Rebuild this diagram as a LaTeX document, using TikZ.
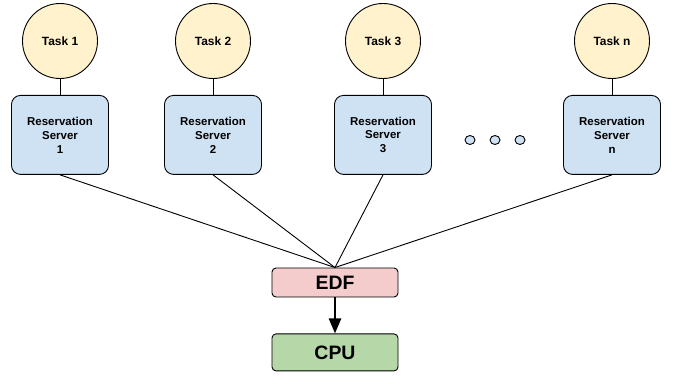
\documentclass[tikz,border=0pt]{standalone}
\usepackage{fontspec}
\setmainfont{Liberation Sans}
\usetikzlibrary{shapes.geometric, arrows.meta, positioning}
\definecolor{taskyellow}{HTML}{FFF2CC}
\definecolor{serverblue}{HTML}{CFE2F3}
\definecolor{edfred}{HTML}{F4CCCC}
\definecolor{cpugreen}{HTML}{B6D7A8}

\begin{document}
\begin{tikzpicture}[
    x=1bp, y=-1bp,
    node distance=16bp,
    task/.style={circle, draw=black, fill=taskyellow, minimum size=75bp, inner sep=0pt, font=\bfseries\fontsize{12}{14}\selectfont, line width=0.9bp},
    server/.style={rectangle, rounded corners=9bp, draw=black, fill=serverblue, minimum width=97bp, minimum height=79bp, align=center, font=\bfseries\fontsize{11.5}{14}\selectfont, line width=0.9bp},
    moredots/.style={ellipse, draw=black, fill=serverblue, minimum width=10bp, minimum height=9bp, inner sep=0pt, line width=0.9bp},
    sched/.style={rectangle, rounded corners=4bp, draw=black, fill=#1, minimum width=126bp, align=center, font=\bfseries\fontsize{19.5}{22}\selectfont, line width=0.9bp},
    link/.style={line width=0.9bp},
    bigarrow/.style={-{Triangle[length=15bp, width=12bp]}, line width=2.5bp},
]
    \useasboundingbox (0,0) rectangle (674,383);

    % Tasks
    \node[task] (t1) at (60,41) {Task 1};
    \node[task] (t2) at (213,41) {Task 2};
    \node[task] (t3) at (383,41) {Task 3};
    \node[task] (tn) at (612,41) {Task n};

    % Reservation servers
    \node[server, below=16bp of t1] (s1) {Reservation\\Server\\1};
    \node[server, below=16bp of t2] (s2) {Reservation\\Server\\2};
    \node[server, below=16bp of t3] (s3) {Reservation\\Server\\3};
    \node[server, below=16bp of tn] (sn) {Reservation\\Server\\n};

    % Dots
    \node[moredots] (d1) at (470,140) {};
    \node[moredots] (d2) at (495,140) {};
    \node[moredots] (d3) at (520,140) {};

    % Scheduler and CPU
    \node[sched=edfred, minimum height=29bp] (edf) at (335,282.5) {EDF};
    \node[sched=cpugreen, minimum height=37bp, below=36bp of edf] (cpu) {CPU};

    % Task links
    \draw[link] (t1) -- (s1);
    \draw[link] (t2) -- (s2);
    \draw[link] (t3) -- (s3);
    \draw[link] (tn) -- (sn);

    % Server links
    \draw[link] (s1.south) -- (edf.north);
    \draw[link] (s2.south) -- (edf.north);
    \draw[link] (s3.south) -- (edf.north);
    \draw[link] (sn.south) -- (edf.north);

    % Arrow
    \draw[bigarrow] (edf) -- (cpu);

\end{tikzpicture}
\end{document}
